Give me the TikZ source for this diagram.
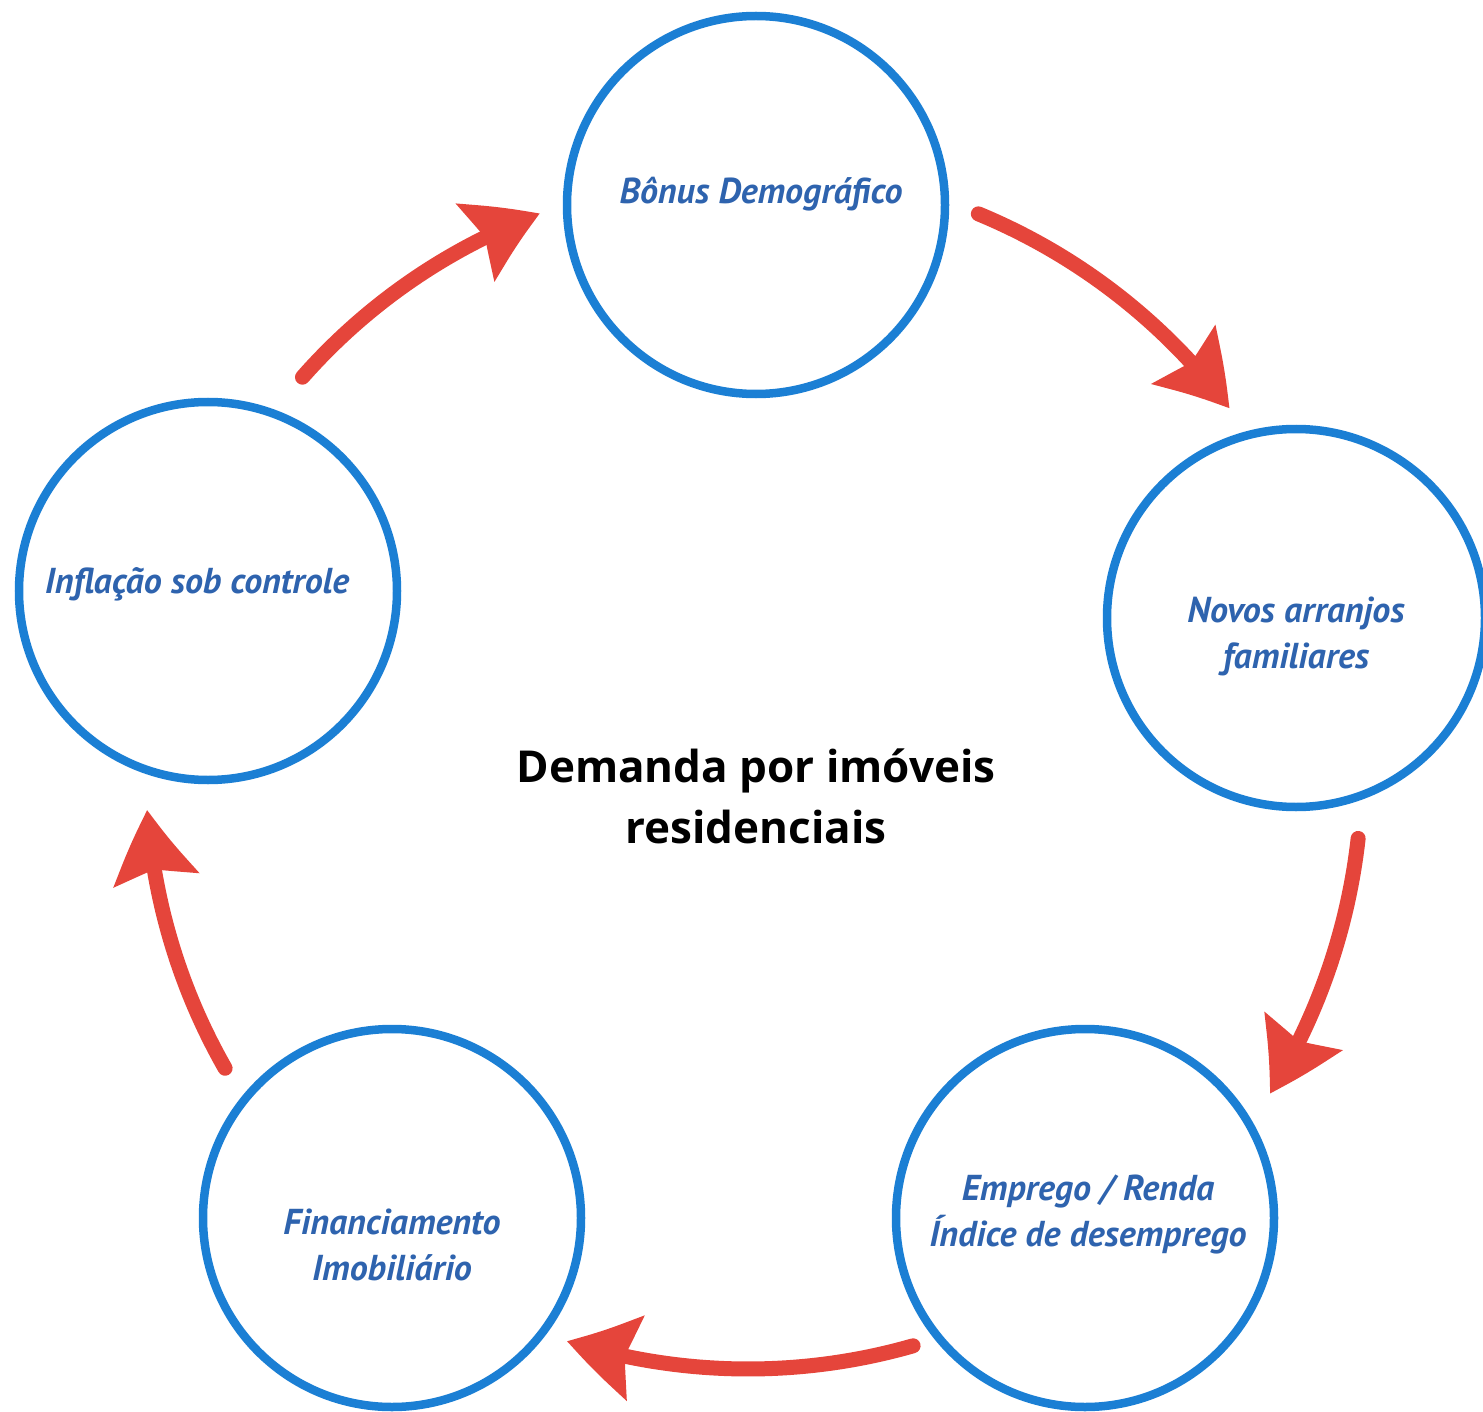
\documentclass[tikz,border=0pt]{standalone}
\usepackage{fontspec}
\setmainfont{Open Sans}
\newfontfamily\labelfont{PT Sans}
\usetikzlibrary{arrows.meta,calc,bending}
\definecolor{ringblue}{HTML}{1B7FD4}
\definecolor{textblue}{HTML}{2E63AE}
\definecolor{arrowred}{HTML}{E5453B}
\begin{document}
\begin{tikzpicture}[x=1pt,y=-1pt,
  ring/.style={circle,draw=ringblue,line width=8.5pt,minimum size=378pt,inner sep=0pt},
  lbl/.style={font=\labelfont\bfseries\itshape\fontsize{36}{46}\selectfont,text=textblue,align=center,inner sep=0pt},
  cyc/.style={draw=arrowred,line width=15pt,line cap=round,
    -{Stealth[length=70pt,width=84pt,inset=10pt,bend]}}]
\useasboundingbox (0,0) rectangle (1483,1412);
\coordinate (O) at (748,770);
\node[ring] (bonus) at (756,205) {};
\node[ring] (novos) at (1296,618) {};
\node[ring] (emprego) at (1085,1218) {};
\node[ring] (financ) at (392,1218) {};
\node[ring] (infla) at (208,591) {};
\node[lbl] (tbonus) at (761,194) {Bônus Demográfico};
\node[lbl] (tnovos) at (1296,636) {Novos arranjos\\familiares};
\node[lbl] (temprego) at (1088,1214) {Emprego / Renda\\Índice de desemprego};
\node[lbl] (tfinanc) at (392,1245) {Financiamento\\Imobiliário};
\node[lbl] (tinfla) at (197,584) {Inflação sob controle};
\node[font=\bfseries\fontsize{44}{61}\selectfont,align=center,inner sep=0pt] (center) at (756,796) {Demanda por imóveis\\residenciais};
\draw[cyc] ($(O)+(-138.6:594)$) arc[start angle=-138.6,end angle=-110.5,radius=594];
\draw[cyc] ($(O)+(-67.5:602)$) arc[start angle=-67.5,end angle=-36.9,radius=602];
\draw[cyc] ($(O)+(6.4:614)$) arc[start angle=6.4,end angle=31.8,radius=614];
\draw[cyc] ($(O)+(74.0:599)$) arc[start angle=74.0,end angle=107.6,radius=599];
\draw[cyc] ($(O)+(150.3:602)$) arc[start angle=150.3,end angle=176.2,radius=602];
\end{tikzpicture}
\end{document}
